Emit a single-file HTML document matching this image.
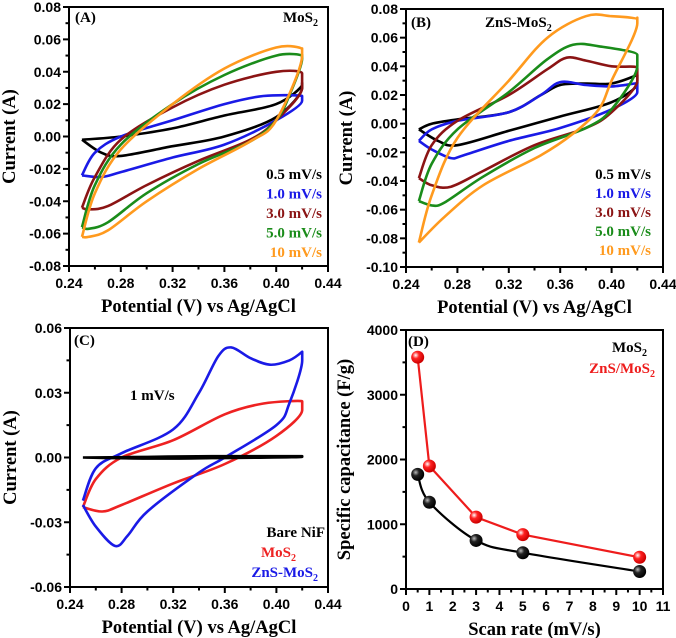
<!DOCTYPE html>
<html><head><meta charset="utf-8"><style>
html,body{margin:0;padding:0;background:#fff;}
svg{display:block;}
.tk{font-family:"Liberation Sans",sans-serif;font-weight:bold;font-size:14px;fill:#000;}
.tt{font-family:"Liberation Serif",serif;font-weight:bold;font-size:18.5px;fill:#000;}
.lg{font-family:"Liberation Serif",serif;font-weight:bold;font-size:15px;}
</style></head><body>
<svg id="fig" width="676" height="638" viewBox="0 0 676 638" xmlns="http://www.w3.org/2000/svg"></svg>
<script>
// ---- Panel A data (MoS2) ----
const aBlackV=[0.25,0.28,0.32,0.36,0.40,0.42,0.42,0.40,0.36,0.32,0.28,0.265,0.25];
const aBlackI=[-0.002,0.0,0.005,0.013,0.02,0.032,0.03,0.012,0.0,-0.006,-0.012,-0.01,-0.002];
const aBlueV=[0.25,0.26,0.28,0.32,0.36,0.39,0.42,0.42,0.40,0.36,0.32,0.28,0.265,0.25];
const aBlueI=[-0.024,-0.01,0.0,0.01,0.02,0.025,0.025,0.022,0.01,-0.005,-0.013,-0.022,-0.025,-0.024];
const aRedV=[0.25,0.26,0.28,0.32,0.36,0.40,0.42,0.42,0.40,0.38,0.34,0.30,0.27,0.255,0.25];
const aRedI=[-0.044,-0.025,-0.002,0.018,0.032,0.04,0.039,0.03,0.01,-0.002,-0.015,-0.03,-0.043,-0.045,-0.044];
const aGreenV=[0.25,0.26,0.28,0.32,0.36,0.40,0.42,0.42,0.41,0.40,0.38,0.34,0.30,0.27,0.255,0.25];
const aGreenI=[-0.056,-0.03,-0.005,0.02,0.038,0.05,0.05,0.048,0.025,0.01,-0.003,-0.017,-0.035,-0.053,-0.057,-0.056];
const aOrangeV=[0.25,0.26,0.28,0.32,0.36,0.40,0.42,0.42,0.40,0.38,0.34,0.30,0.27,0.255,0.25];
const aOrangeI=[-0.062,-0.035,-0.008,0.02,0.042,0.055,0.054,0.05,0.01,-0.003,-0.02,-0.04,-0.058,-0.062,-0.062];
// ---- Panel B data (ZnS-MoS2) ----
const bBlackV=[0.25,0.26,0.28,0.32,0.345,0.36,0.38,0.40,0.42,0.42,0.40,0.36,0.32,0.28,0.265,0.25];
const bBlackI=[-0.004,0.0,0.003,0.008,0.02,0.027,0.028,0.028,0.034,0.028,0.015,0.005,-0.005,-0.015,-0.012,-0.004];
const bBlueV=[0.25,0.26,0.28,0.32,0.345,0.36,0.38,0.40,0.42,0.42,0.40,0.36,0.32,0.285,0.275,0.26,0.25];
const bBlueI=[-0.012,-0.004,0.002,0.008,0.02,0.029,0.027,0.026,0.028,0.022,0.01,-0.003,-0.012,-0.022,-0.024,-0.018,-0.012];
const bRedV=[0.25,0.26,0.28,0.32,0.35,0.365,0.38,0.40,0.42,0.42,0.40,0.38,0.34,0.30,0.275,0.26,0.25];
const bRedI=[-0.038,-0.015,0.002,0.02,0.038,0.046,0.044,0.04,0.039,0.03,0.008,-0.003,-0.015,-0.033,-0.044,-0.043,-0.038];
const bGreenV=[0.25,0.26,0.28,0.32,0.35,0.37,0.39,0.42,0.42,0.40,0.38,0.34,0.30,0.27,0.26,0.25];
const bGreenI=[-0.054,-0.028,-0.004,0.022,0.045,0.055,0.054,0.048,0.04,0.01,-0.003,-0.017,-0.037,-0.055,-0.057,-0.054];
const bOrangeV=[0.25,0.26,0.28,0.32,0.35,0.38,0.40,0.42,0.42,0.40,0.39,0.37,0.345,0.30,0.27,0.25];
const bOrangeI=[-0.083,-0.05,-0.01,0.03,0.06,0.075,0.075,0.073,0.07,0.03,0.01,-0.007,-0.022,-0.043,-0.065,-0.083];
// ---- Panel C data (1 mV/s) ----
const cNiV=[0.25,0.30,0.35,0.42,0.42,0.35,0.30,0.25];
const cNiI=[0.0,0.0003,0.0006,0.0006,0.0003,-0.0003,-0.0005,0.0];
const cMoV=[0.25,0.26,0.28,0.32,0.36,0.39,0.42,0.42,0.40,0.36,0.32,0.28,0.265,0.25];
const cMoI=[-0.023,-0.01,0.0,0.008,0.02,0.025,0.026,0.022,0.01,-0.003,-0.012,-0.022,-0.025,-0.023];
const cZnV=[0.25,0.26,0.28,0.32,0.34,0.355,0.365,0.38,0.395,0.41,0.42,0.42,0.41,0.40,0.36,0.34,0.30,0.285,0.275,0.26,0.25];
const cZnI=[-0.02,-0.005,0.002,0.013,0.03,0.047,0.051,0.046,0.043,0.045,0.049,0.045,0.025,0.015,0.0,-0.007,-0.025,-0.036,-0.041,-0.032,-0.022];
// ---- Panel D data ----
const scanRates=[0.5,1,3,5,10];
const capMoS2=[1770,1340,750,560,270];
const capZnS=[3580,1900,1110,840,490];
const xTicksCV=["0.24","0.28","0.32","0.36","0.40","0.44"];
const yTicksA=["-0.08","-0.06","-0.04","-0.02","0.00","0.02","0.04","0.06","0.08"];
const yTicksB=["-0.10","-0.08","-0.06","-0.04","-0.02","0.00","0.02","0.04","0.06","0.08"];
const yTicksC=["-0.06","-0.03","0.00","0.03","0.06"];
const xTicksD=["0","1","2","3","4","5","6","7","8","9","10","11"];
const yTicksD=["0","1000","2000","3000","4000"];

const NS="http://www.w3.org/2000/svg";
const fig=document.getElementById('fig');
function mk(tag,attrs,parent){const e=document.createElementNS(NS,tag);for(const k in attrs)e.setAttribute(k,attrs[k]);(parent||fig).appendChild(e);return e;}

function axes(p){
  const g=mk('g',{});
  
  
  const sx=v=>p.x0+(v-p.xmin)/(p.xmax-p.xmin)*(p.x1-p.x0);
  const sy=v=>p.y1-(v-p.ymin)/(p.ymax-p.ymin)*(p.y1-p.y0);
  for(let i=0;i<p.xt.length-1;i++){const a=parseFloat(p.xt[i]),b=parseFloat(p.xt[i+1]);mk('line',{x1:sx((a+b)/2),x2:sx((a+b)/2),y1:p.y1,y2:p.y1+3.5,stroke:'#000','stroke-width':2},g);}
  for(let i=0;i<p.yt.length-1;i++){const a=parseFloat(p.yt[i]),b=parseFloat(p.yt[i+1]);mk('line',{x1:p.x0-3.5,x2:p.x0,y1:sy((a+b)/2),y2:sy((a+b)/2),stroke:'#000','stroke-width':2},g);}
  p.xt.forEach(t=>{const v=parseFloat(t);mk('line',{x1:sx(v),x2:sx(v),y1:p.y1,y2:p.y1+6,stroke:'#000','stroke-width':2},g);
    const tx=mk('text',{x:sx(v),y:p.y1+22,'text-anchor':'middle',class:'tk'},g);tx.textContent=t;
    
    });
  p.yt.forEach(t=>{const v=parseFloat(t);mk('line',{x1:p.x0-6,x2:p.x0,y1:sy(v),y2:sy(v),stroke:'#000','stroke-width':2},g);
    const tx=mk('text',{x:p.x0-8,y:sy(v)+5,'text-anchor':'end',class:'tk'},g);tx.textContent=t;
    
    });
  const fr=mk('rect',{x:p.x0,y:p.y0,width:p.x1-p.x0,height:p.y1-p.y0,fill:'none',stroke:'#000','stroke-width':2},g);
  
  
  const xt=mk('text',{x:(p.x0+p.x1)/2,y:p.y1+46,'text-anchor':'middle',class:'tt'},g);xt.textContent=p.xl;
  
  
  const yx=p.x0-(p.ytoff||54);const yy=(p.y0+p.y1)/2;
  const yt=mk('text',{x:yx,y:yy,'text-anchor':'middle',class:'tt',transform:`rotate(-90 ${yx} ${yy})`},g);yt.textContent=p.yl;
  
  
  return {g,sx,sy};
}
function smoothPath(pts){
  const n=pts.length;
  const tan=pts.map((p,i)=>{
    const a=pts[Math.max(0,i-1)],b=pts[Math.min(n-1,i+1)];
    let tx=(b[0]-a[0])/2,ty=(b[1]-a[1])/2;
    if(i>0&&i<n-1){const d1=p[0]-a[0],d2=b[0]-p[0];if(d1*d2<=0)tx=0;}
    return [tx,ty];
  });
  let d=`M${pts[0][0]},${pts[0][1]}`;
  for(let i=0;i<n-1;i++){
    const p1=pts[i],p2=pts[i+1];
    const c1=[p1[0]+tan[i][0]/3,p1[1]+tan[i][1]/3],c2=[p2[0]-tan[i+1][0]/3,p2[1]-tan[i+1][1]/3];
    d+=`C${c1[0].toFixed(1)},${c1[1].toFixed(1)} ${c2[0].toFixed(1)},${c2[1].toFixed(1)} ${p2[0].toFixed(1)},${p2[1].toFixed(1)}`;
  }
  return d;
}
function loop(ax,V,I,color,name){
  const pts=V.map((v,i)=>[ax.sx(v),ax.sy(I[i])]);
  const e=mk('path',{d:smoothPath(pts),fill:'none',stroke:color,'stroke-width':2.6,'stroke-linejoin':'round'},ax.g);
  
  
}
function label(ax,x,y,txt,sub,color,anchor,name,cls){
  const t=mk('text',{x:x,y:y,'text-anchor':anchor||'start',class:cls||'lg',fill:color||'#000'},ax.g);
  
  
  t.appendChild(document.createTextNode(txt));
  if(sub){const s=mk('tspan',{dy:4,'font-size':'10px'},t);s.textContent=sub;}
  return t;
}
const COL={k:'#000',b:'#1a1ae6',r:'#8b1414',g:'#1a8c1a',o:'#ff9a1e'};
const A=axes({name:'panel-a',x0:69,x1:328,y0:7,y1:266,xmin:0.24,xmax:0.44,ymin:-0.08,ymax:0.08,xt:xTicksCV,yt:yTicksA,xl:'Potential (V) vs Ag/AgCl',yl:'Current (A)'});
loop(A,aBlackV,aBlackI,COL.k,'curve-0p5');loop(A,aBlueV,aBlueI,COL.b,'curve-1p0');loop(A,aRedV,aRedI,COL.r,'curve-3p0');loop(A,aGreenV,aGreenI,COL.g,'curve-5p0');loop(A,aOrangeV,aOrangeI,COL.o,'curve-10');
label(A,75,22,'(A)','', '#000','start','panel-label','lg');
label(A,318,22,'MoS','2','#000','end','panel-title','lg');
const legA=[['0.5 mV/s',COL.k],['1.0 mV/s',COL.b],['3.0 mV/s',COL.r],['5.0 mV/s',COL.g],['10 mV/s',COL.o]];
legA.forEach((l,i)=>label(A,322,179+i*19.5,l[0],'',l[1],'end','legend-entry'));
const B=axes({name:'panel-b',x0:406,x1:663,y0:9,y1:267,xmin:0.24,xmax:0.44,ymin:-0.10,ymax:0.08,xt:xTicksCV,yt:yTicksB,xl:'Potential (V) vs Ag/AgCl',yl:'Current (A)'});
loop(B,bBlackV,bBlackI,COL.k,'curve-0p5');loop(B,bBlueV,bBlueI,COL.b,'curve-1p0');loop(B,bRedV,bRedI,COL.r,'curve-3p0');loop(B,bGreenV,bGreenI,COL.g,'curve-5p0');loop(B,bOrangeV,bOrangeI,COL.o,'curve-10');
label(B,411,27,'(B)','','#000','start','panel-label');
label(B,485,27,'ZnS-MoS','2','#000','start','panel-title');
legA.forEach((l,i)=>label(B,651,179+i*19,l[0],'',l[1],'end','legend-entry'));
const C=axes({name:'panel-c',x0:70,x1:328,y0:328,y1:587,xmin:0.24,xmax:0.44,ymin:-0.06,ymax:0.06,xt:xTicksCV,yt:yTicksC,xl:'Potential (V) vs Ag/AgCl',yl:'Current (A)'});
loop(C,cMoV,cMoI,'#ee2222','curve-mos2');loop(C,cZnV,cZnI,'#1a1ae6','curve-zns-mos2');loop(C,cNiV,cNiI,'#000','curve-bare-nif');
label(C,74,345,'(C)','','#000','start','panel-label');
label(C,130,400,'1 mV/s','','#000','start','scan-rate-label');
label(C,325,537,'Bare NiF','','#000','end','legend-entry');
label(C,296,557,'MoS','2','#ee2222','end','legend-entry');
label(C,318,577,'ZnS-MoS','2','#1a1ae6','end','legend-entry');
const D=axes({name:'panel-d',x0:406,x1:663,y0:330,y1:589,xmin:0,xmax:11,ymin:0,ymax:4000,xt:xTicksD,yt:yTicksD,xl:'Scan rate (mV/s)',yl:'Specific capacitance (F/g)',ytoff:56});
const dk=scanRates.map((v,i)=>[D.sx(v),D.sy(capMoS2[i])]);
const pk=mk('path',{d:smoothPath(dk),fill:'none',stroke:'#000','stroke-width':2.2},D.g);


const pr=mk('polyline',{points:scanRates.map((v,i)=>D.sx(v)+','+D.sy(capZnS[i])).join(' '),fill:'none',stroke:'#ee1c1c','stroke-width':2.2},D.g);


const defs=mk('defs',{});
defs.innerHTML='<radialGradient id="gk" cx="35%" cy="35%" r="65%"><stop offset="0" stop-color="#bbb"/><stop offset="0.4" stop-color="#222"/><stop offset="1" stop-color="#000"/></radialGradient><radialGradient id="gr" cx="35%" cy="35%" r="65%"><stop offset="0" stop-color="#fff"/><stop offset="0.4" stop-color="#f22"/><stop offset="1" stop-color="#c00"/></radialGradient>';
scanRates.forEach((v,i)=>{const c=mk('circle',{cx:D.sx(v),cy:D.sy(capMoS2[i]),r:6.5,fill:'url(#gk)'},D.g);
  
  });
scanRates.forEach((v,i)=>{const c=mk('circle',{cx:D.sx(v),cy:D.sy(capZnS[i]),r:6.5,fill:'url(#gr)'},D.g);
  
  });
label(D,408,346,'(D)','','#000','start','panel-label');
label(D,647,352,'MoS','2','#000','end','legend-entry');
label(D,655,373,'ZnS/MoS','2','#ee1c1c','end','legend-entry');
</script>
</body></html>
